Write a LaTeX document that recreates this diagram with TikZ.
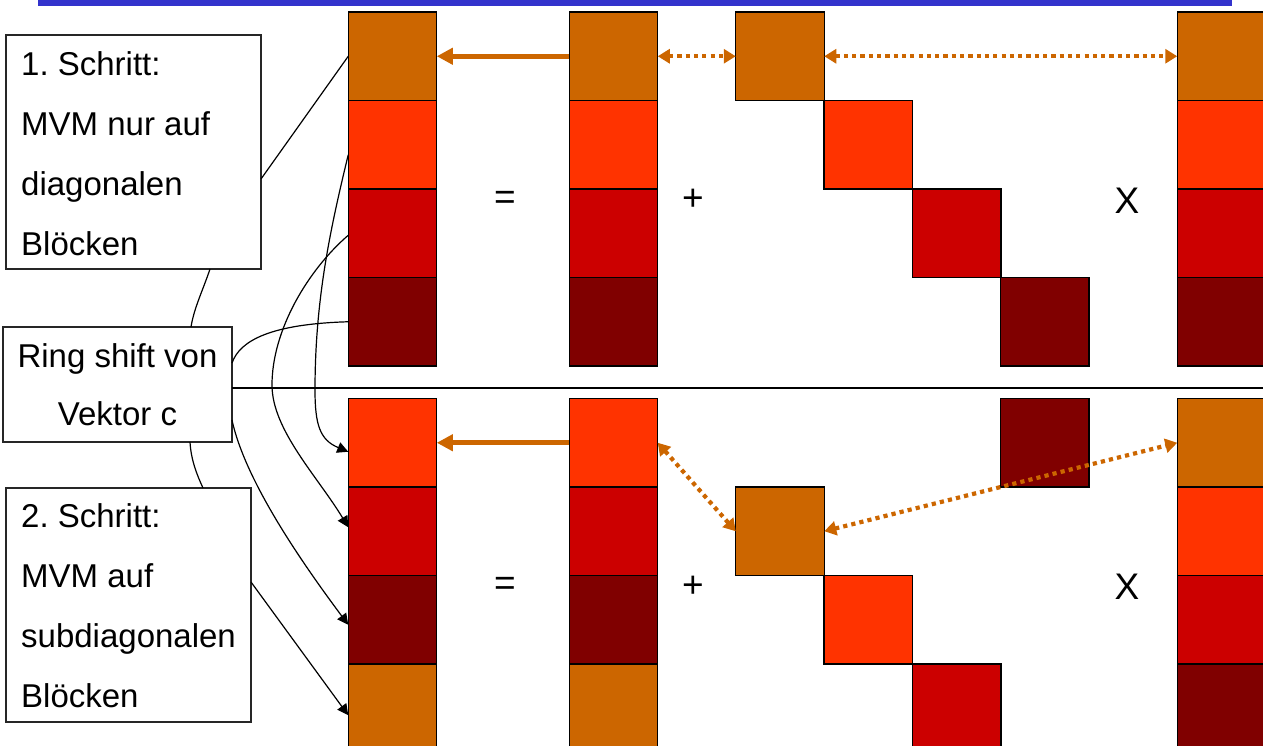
\documentclass[tikz,border=0pt]{standalone}
\usepackage{fontspec}
\setmainfont{Liberation Sans}
\frenchspacing
\usetikzlibrary{arrows.meta,calc}
\definecolor{cO}{HTML}{CC6600}
\definecolor{cR}{HTML}{FF3300}
\definecolor{cM}{HTML}{CC0000}
\definecolor{cD}{HTML}{800000}
\definecolor{cB}{HTML}{3333CC}
\begin{document}
\begin{tikzpicture}[x=1pt,y=-1pt,
 blk/.style={draw=black,line width=1.4pt,minimum width=88.5pt,minimum height=88.5pt,inner sep=0pt,outer sep=0pt},
 tbox/.style={draw=black!85,line width=1.3pt,fill=white,inner sep=0pt,outer sep=0pt},
 txt/.style={inner sep=0pt,font=\fontsize{33}{60}\selectfont},
 sym/.style={inner sep=0pt,font=\fontsize{37}{40}\selectfont},
 link/.style={line width=1.2pt,black},
 larr/.style={link,-{Triangle[length=11pt,width=11pt]}},
 oarr/.style={cO,line width=4.7pt,-{Triangle[length=16pt,width=16pt]}},
 odot/.style={cO,line width=4.2pt,dash pattern=on 4.2pt off 4.1pt,{Triangle[length=12pt,width=14pt]}-{Triangle[length=12pt,width=14pt]}}]
\useasboundingbox (0,0) rectangle (1263,745);
\fill[cB] (38,0) rectangle (1232,5.5);
% column 1 top / bottom
\node[blk,fill=cO] (a1) at (392.5,56.25) {};
\node[blk,fill=cR] (a2) at (392.5,144.75) {};
\node[blk,fill=cM] (a3) at (392.5,233.25) {};
\node[blk,fill=cD] (a4) at (392.5,321.75) {};
\node[blk,fill=cR] (b1) at (392.5,442.75) {};
\node[blk,fill=cM] (b2) at (392.5,531.25) {};
\node[blk,fill=cD] (b3) at (392.5,619.75) {};
\node[blk,fill=cO] (b4) at (392.5,708.25) {};
% column 2
\node[blk,fill=cO] (p1) at (613.5,56.25) {};
\node[blk,fill=cR] (p2) at (613.5,144.75) {};
\node[blk,fill=cM] (p3) at (613.5,233.25) {};
\node[blk,fill=cD] (p4) at (613.5,321.75) {};
\node[blk,fill=cR] (q1) at (613.5,442.75) {};
\node[blk,fill=cM] (q2) at (613.5,531.25) {};
\node[blk,fill=cD] (q3) at (613.5,619.75) {};
\node[blk,fill=cO] (q4) at (613.5,708.25) {};
% right column
\node[blk,fill=cO] (r1) at (1221.5,56.25) {};
\node[blk,fill=cR] (r2) at (1221.5,144.75) {};
\node[blk,fill=cM] (r3) at (1221.5,233.25) {};
\node[blk,fill=cD] (r4) at (1221.5,321.75) {};
\node[blk,fill=cO] (s1) at (1221.5,442.75) {};
\node[blk,fill=cR] (s2) at (1221.5,531.25) {};
\node[blk,fill=cM] (s3) at (1221.5,619.75) {};
\node[blk,fill=cD] (s4) at (1221.5,708.25) {};
% diagonal blocks
\node[blk,fill=cO] (d1) at (780,56.25) {};
\node[blk,fill=cR] (d2) at (868.3,144.75) {};
\node[blk,fill=cM] (d3) at (956.6,233.25) {};
\node[blk,fill=cD] (d4) at (1044.9,321.75) {};
\node[blk,fill=cD] (e4) at (1044.9,442.75) {};
\node[blk,fill=cO] (e1) at (780,531.25) {};
\node[blk,fill=cR] (e2) at (868.3,619.75) {};
\node[blk,fill=cM] (e3) at (956.6,708.25) {};
% text boxes
\node[tbox,minimum width=255pt,minimum height=234pt] (box1) at (133.5,152) {};
\node[tbox,minimum width=229pt,minimum height=115pt] (ring) at (117.5,384.5) {};
\node[tbox,minimum width=245pt,minimum height=234pt] (box2) at (128.5,605) {};
\node[txt,anchor=base west,align=left] (t1) at (21,255) {1. Schritt:\\MVM nur auf\\diagonalen\\Blöcken};
\node[txt,font=\fontsize{33}{58}\selectfont,anchor=base,align=center] (t0) at (117.5,425) {Ring shift von\\Vektor c};
\node[txt,font=\fontsize{33}{59.7}\selectfont,anchor=base west,align=left] (t2) at (21,707) {2. Schritt:\\MVM auf\\subdiagonalen\\Blöcken};
% separator line
\coordinate (hr) at (1263,388);
\draw[line width=1.5pt] ($(ring.east)+(0,3.5)$) -- (hr);
% black connectors
\draw[link] ($(box1.east)+(0,27)$) -- (a1.west);
\draw[link] ($(box1.south)+(76.5,0)$) .. controls (203,290) and (194,308) .. ($(ring.north)+(73.5,0)$);
\draw[link] ($(ring.south)+(72.5,0)$) .. controls (191,460) and (197,475) .. ($(box2.north)+(74.5,0)$);
\draw[link] ($(ring.east)+(0,-21.5)$) .. controls (240,340) and (272,324) .. (a4.west);
\draw[larr] ($(a3.west)+(0,2)$) .. controls (308,270) and (272,330) .. (272,385) .. controls (272,430) and (318,477) .. ($(b2.west)+(0,-4)$);
\draw[larr] ($(a2.west)+(0,10)$) .. controls (330,230) and (315,300) .. (315,390) .. controls (315,425) and (320,440) .. ($(b1.west)+(0,9)$);
\draw[larr] ($(ring.east)+(0,35.5)$) .. controls (245,480) and (300,560) .. ($(b3.west)+(0,5)$);
\draw[larr] ($(box2.east)+(0,-23)$) -- ($(b4.west)+(0,7)$);
% orange arrows
\draw[oarr] (p1.west) -- (a1.east);
\draw[odot] (p1.east) -- (d1.west);
\draw[odot] (d1.east) -- (r1.west);
\draw[oarr] (q1.west) -- (b1.east);
\draw[odot] (q1.east) -- (e1.west);
\draw[odot] (e1.east) -- (s1.west);
% symbols
\node[sym] (eq1) at (505,200) {=};
\node[sym] (pl1) at (693,200) {+};
\node[sym] (x1) at (1127,201) {X};
\node[sym] (eq2) at (505,586.5) {=};
\node[sym] (pl2) at (693,586.5) {+};
\node[sym] (x2) at (1127,587) {X};
\end{tikzpicture}
\end{document}
